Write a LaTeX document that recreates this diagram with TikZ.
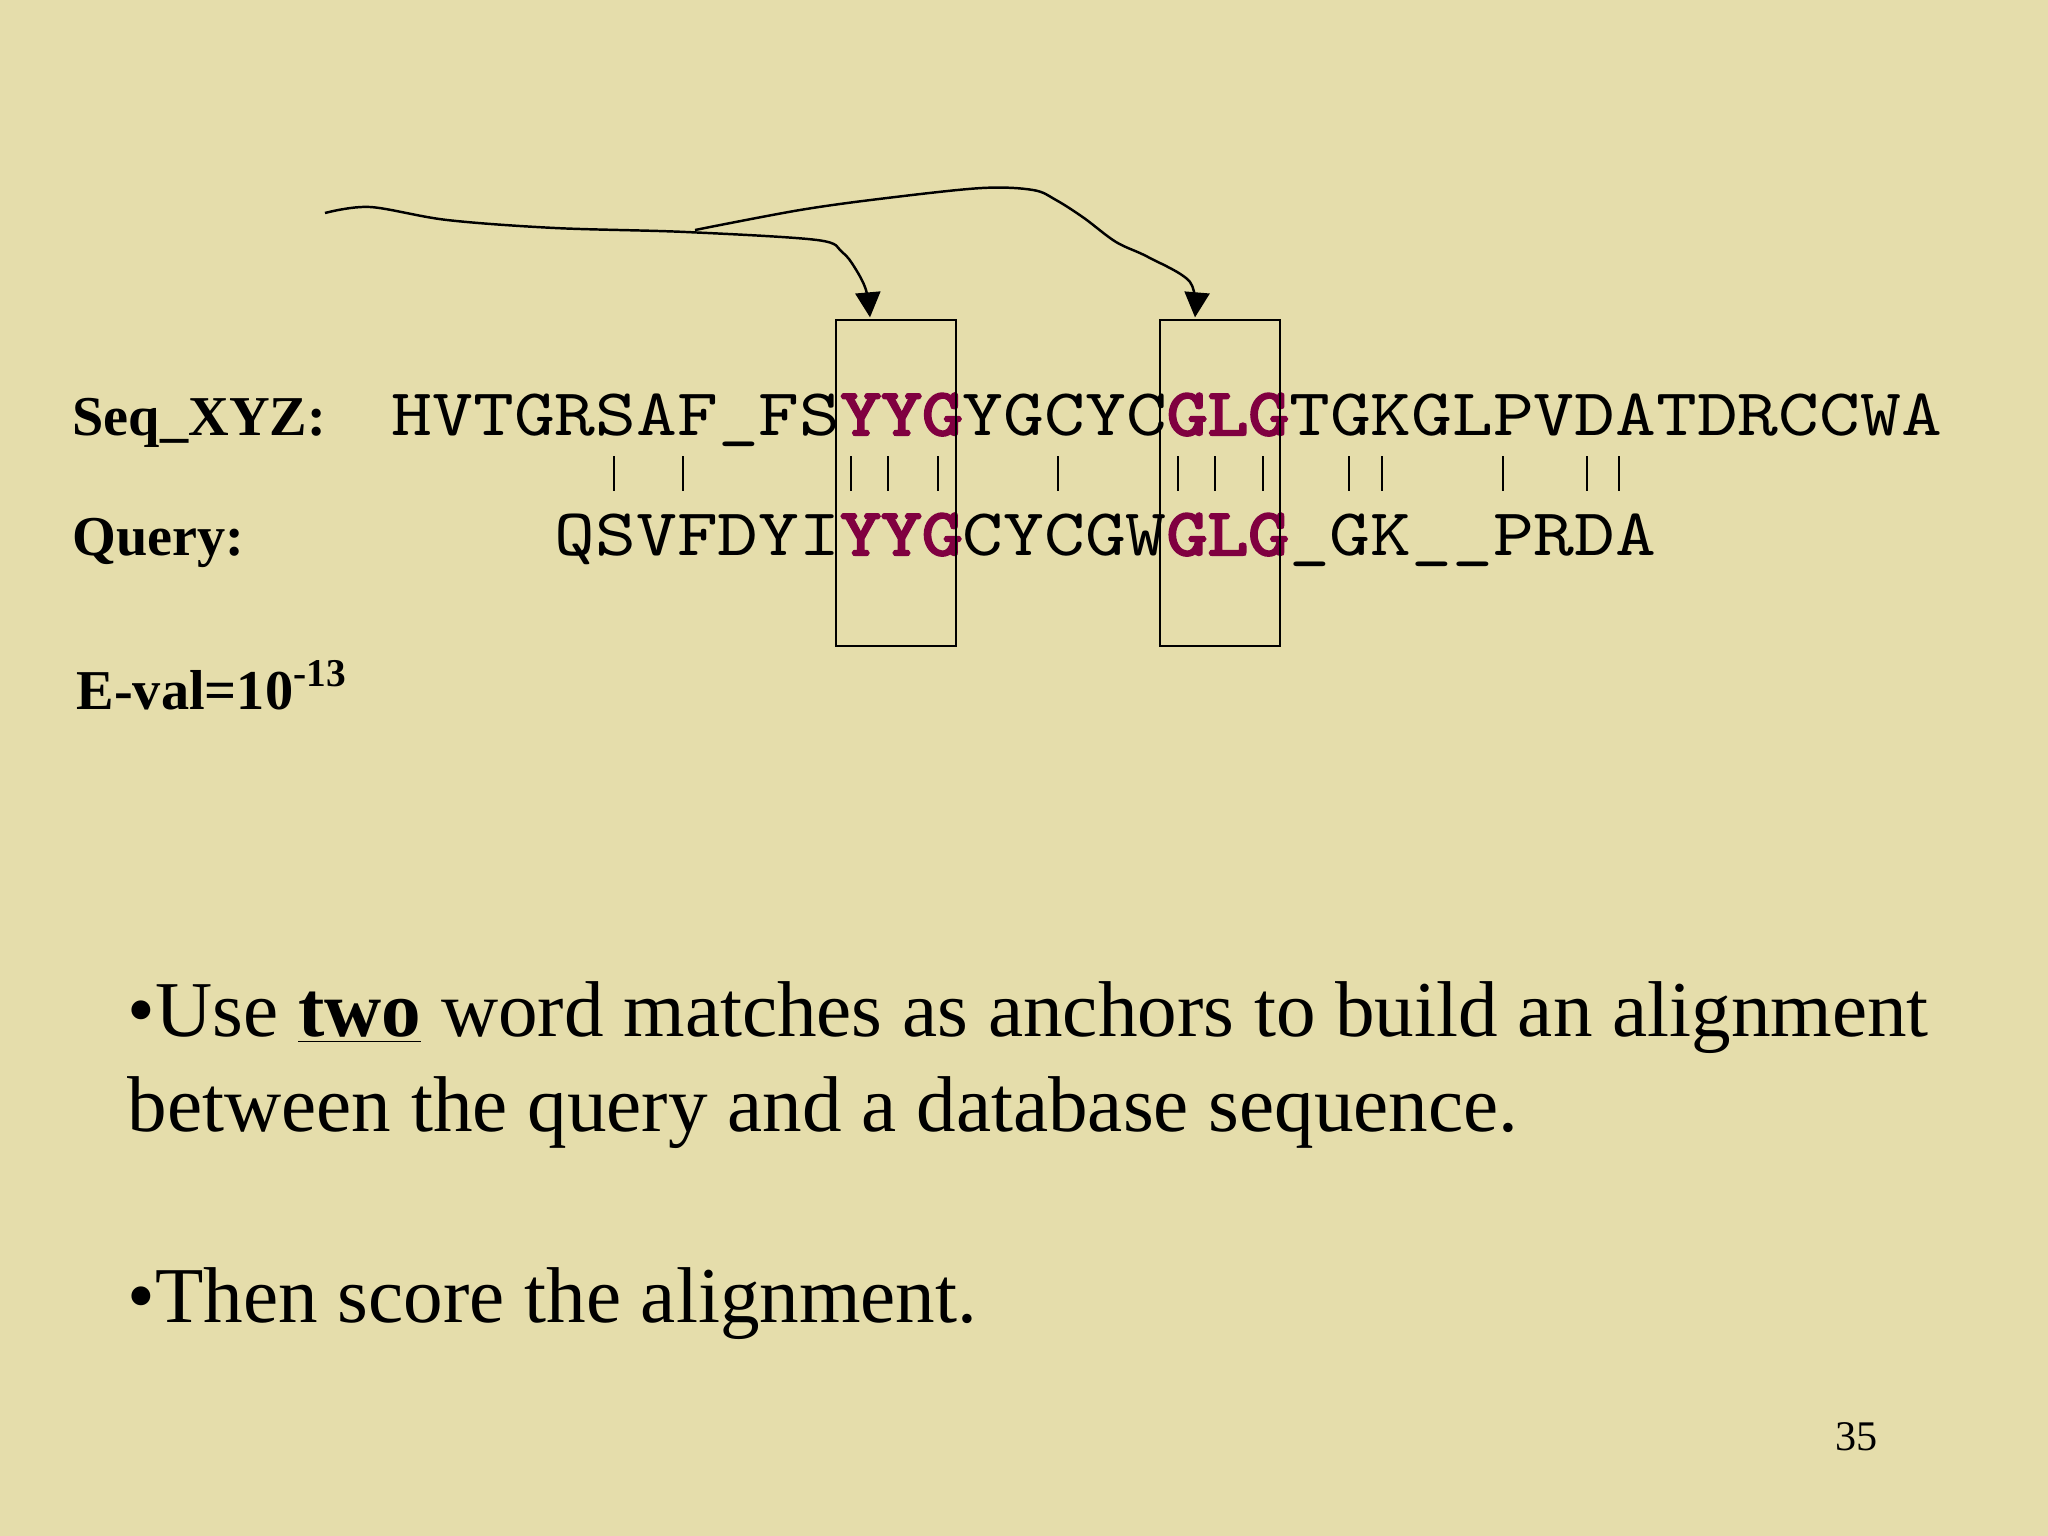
\documentclass[tikz,border=0pt]{standalone}
\usepackage{fontspec}
\setmainfont{Liberation Serif}
\newfontfamily\seqfont{lmmono10-regular.otf}[FakeStretch=1.163, BoldFont={lmmono10-regular.otf}, BoldFeatures={FakeBold=3.5}]
\usepackage{xcolor}
\usetikzlibrary{arrows.meta,calc,positioning}
\definecolor{slidebg}{RGB}{229,221,171}
\definecolor{motifred}{RGB}{128,0,64}
\newcommand{\motif}[1]{\textcolor{motifred}{\bfseries #1}}
\tikzset{
  seqlabel/.style={font=\fontsize{16}{19}\selectfont\bfseries, inner sep=0pt, anchor=base west},
  seqrow/.style={font=\fontsize{19}{22}\selectfont\seqfont, inner sep=0pt, anchor=base west},
  bodytext/.style={font=\fontsize{22.5}{27}\selectfont, inner sep=0pt, anchor=base west},
  matchbar/.style={line width=0.6pt},
  anchorbox/.style={draw, line width=0.6pt, minimum width=1.2cm, minimum height=3.25cm, inner sep=0pt},
  handarrow/.style={line width=0.7pt, -{Triangle[length=0.25cm,width=0.25cm]}}
}

\begin{document}
\begin{tikzpicture}[x=0.01cm, y=-0.01cm]
    % Slide background.
    \fill[slidebg] (0,0) rectangle (2048,1536);
    \useasboundingbox (0,0) rectangle (2048,1536);

    % Row labels.
    \node[seqlabel] (xyzlabel) at (72,435) {Seq\_XYZ:};
    \node[seqlabel] (querylabel) at (72,555) {Query:};
    \node[seqlabel] (evalue) at (76,709) {E-val=10\textsuperscript{-13}};

    % Aligned sequences.
    \node[seqrow] (xyzseq) at (391,435)
        {HVTGRSAF\_FS\motif{YYG}YGCYC\motif{GLG}TGKGLPVDATDRCCWA};
    \node[seqrow] (queryseq) at (554,555)
        {QSVFDYI\motif{YYG}CYCGW\motif{GLG}\_GK\_\_PRDA};

    % Identity bars.
    \foreach \bx in {614,683,851,888,938,1058,1178,1215,1263,1349,1382,1503,1587,1619}
        \draw[matchbar] (\bx,456) -- (\bx,491);

    % Boxes round the two word hits.
    \node[anchorbox] (yygbox) at (896,483) {};
    \node[anchorbox] (glgbox) at (1220,483) {};

    % Hand-drawn pointers.
    \coordinate (penstart) at (325,213);
    \coordinate (penfork) at (695,230);
    \coordinate (yygtip) at ($(yygbox.north)+(-26,-2)$);
    \coordinate (glgtip) at ($(glgbox.north)+(-25,-2)$);
    \draw[handarrow] plot[smooth, tension=0.55] coordinates {(penstart) (370,207) (447,220) (555,228) (686,232) (817,240) (842,252) (855,268) (866,290) (yygtip)};
    \draw[handarrow] plot[smooth, tension=0.55] coordinates {(penfork) (800,210) (887,198) (982,188) (1033,190) (1056,200) (1084,218) (1116,242) (1148,257) (1190,282) (glgtip)};

    % Bullet text.
    \node[bodytext] (bulletone) at (127,1036) {\textbullet Use \underline{\textbf{two}} word matches as anchors to build an alignment};
    \node[bodytext] (bulletwrap) at (127,1131) {between the query and a database sequence.};
    \node[bodytext] (bullettwo) at (127,1322) {\textbullet Then score the alignment.};

    % Slide number.
    \node[font=\fontsize{12}{14}\selectfont, inner sep=0pt, anchor=base west] (slidenum) at (1835,1450) {35};
\end{tikzpicture}
\end{document}
